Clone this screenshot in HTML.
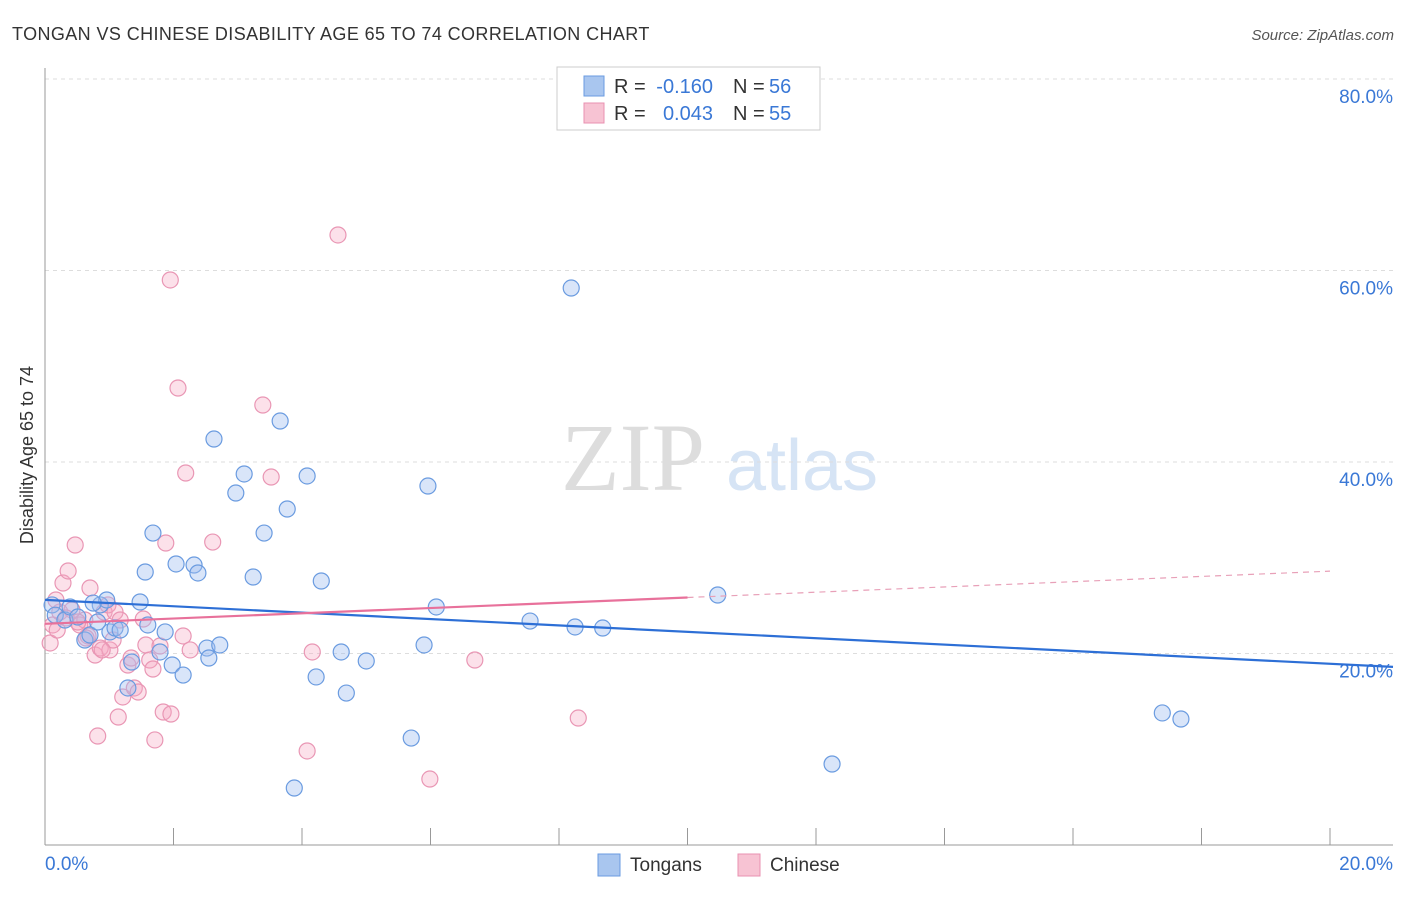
<!DOCTYPE html>
<html><head><meta charset="utf-8"><style>
body{margin:0;background:#fff;font-family:"Liberation Sans",sans-serif;}
svg text{font-family:"Liberation Sans",sans-serif;}
</style></head><body>
<svg id="chart" width="1406" height="892" viewBox="0 0 1406 892">
<text x="12" y="40" font-size="18" fill="#333" letter-spacing="0.4">TONGAN VS CHINESE DISABILITY AGE 65 TO 74 CORRELATION CHART</text>
<text x="1394" y="40" font-size="15" fill="#555" font-style="italic" text-anchor="end">Source: ZipAtlas.com</text>
<g>
<text x="633" y="490" font-size="96" fill="#ddd" text-anchor="middle" font-family="Liberation Serif" style="font-family:'Liberation Serif',serif">ZIP</text>
<text x="802" y="490" font-size="72" fill="#d6e4f5" text-anchor="middle">atlas</text>
</g>
<g id="grid"></g>
<g id="axes"></g>
<g id="marks"></g>
<text transform="translate(33,455) rotate(-90)" font-size="18" fill="#333" text-anchor="middle">Disability Age 65 to 74</text>
<g>
<rect x="557" y="67" width="263" height="63" fill="#fff" stroke="#ccc"/>
<rect x="584" y="76" width="20" height="20" fill="#a9c6ef" stroke="#6a9be0"/>
<text x="614" y="93" font-size="20" fill="#333">R =</text>
<text x="713" y="93" font-size="20" fill="#3a78d6" text-anchor="end">-0.160</text>
<text x="733" y="93" font-size="20" fill="#333">N =</text>
<text x="769" y="93" font-size="20" fill="#3a78d6">56</text>
<rect x="584" y="103" width="20" height="20" fill="#f7c3d3" stroke="#e890b0"/>
<text x="614" y="120" font-size="20" fill="#333">R =</text>
<text x="713" y="120" font-size="20" fill="#3a78d6" text-anchor="end">0.043</text>
<text x="733" y="120" font-size="20" fill="#333">N =</text>
<text x="769" y="120" font-size="20" fill="#3a78d6">55</text>
</g>
<g>
<rect x="598" y="854" width="22" height="22" fill="#a9c6ef" stroke="#6a9be0"/>
<text x="630" y="871" font-size="19" fill="#333">Tongans</text>
<rect x="738" y="854" width="22" height="22" fill="#f7c3d3" stroke="#e890b0"/>
<text x="770" y="871" font-size="19" fill="#333">Chinese</text>
</g>
</svg>
<script>
const yTicks=[20,40,60,80];
const xTickLabels=["0.0%","20.0%"];
const blueX=[0.11,0.16,0.31,0.39,0.51,0.62,0.70,0.82,0.86,0.96,1.01,1.09,1.17,1.29,1.35,1.48,1.56,1.60,1.68,1.79,1.87,1.98,2.04,2.15,2.32,2.38,2.52,2.55,2.63,2.72,2.97,3.10,3.24,3.41,3.66,3.77,3.88,4.08,4.22,4.30,4.61,4.69,5.0,5.70,5.90,5.96,6.09,7.55,8.19,8.25,8.68,10.47,12.25,17.39,17.68,0.75];
const blueY=[25.07,24.0,23.5,24.86,23.81,21.41,21.93,23.29,25.07,25.59,22.25,22.66,22.45,16.4,19.11,25.38,28.51,22.98,32.58,20.16,22.25,18.8,29.35,17.75,29.24,28.41,20.57,19.53,42.4,20.89,36.76,38.75,27.99,32.58,44.28,35.09,5.95,38.54,17.55,27.57,20.16,15.87,19.22,11.17,20.89,37.49,24.86,23.39,58.17,22.77,22.66,26.11,8.46,13.79,13.16,25.27];
const pinkX=[0.08,0.12,0.19,0.23,0.28,0.36,0.42,0.47,0.54,0.62,0.67,0.70,0.78,0.82,0.86,0.92,0.98,1.01,1.06,1.09,1.14,1.21,1.29,1.34,1.39,1.45,1.57,1.63,1.68,1.71,1.79,1.84,1.88,1.95,1.96,2.07,2.15,2.19,2.26,2.61,3.39,3.52,4.08,4.16,4.56,5.99,6.69,8.30,0.17,0.33,0.51,0.89,0.64,1.17,1.53];
const pinkY=[21.1,22.98,22.45,24.33,27.36,28.62,24.54,31.33,22.98,23.5,21.83,26.84,19.84,11.38,20.57,24.33,25.07,20.37,21.41,24.33,13.37,15.46,18.8,19.53,16.4,15.98,20.89,19.32,18.38,10.97,20.78,13.89,31.54,59.01,13.68,47.73,21.83,38.85,20.37,31.64,45.95,38.43,9.82,20.16,63.71,6.89,19.32,13.26,25.59,23.71,23.29,20.37,21.62,23.5,23.6];
const blueTrend=[25.6,18.6];
const pinkTrend=[23.1,28.6];
const NS="http://www.w3.org/2000/svg";
const X=v=>45+v*64.25, Y=v=>845-v*9.575;
function mk(tag,attrs,parent){const e=document.createElementNS(NS,tag);for(const k in attrs)e.setAttribute(k,attrs[k]);parent.appendChild(e);return e;}
const grid=document.getElementById('grid'),axes=document.getElementById('axes'),marks=document.getElementById('marks');
yTicks.forEach(t=>{
 const l=mk('line',{x1:45,x2:1393,y1:Y(t),y2:Y(t),stroke:'#ddd','stroke-dasharray':'4,4'},grid);
 
 
 const tx=mk('text',{x:1393,y:Y(t)+24,'font-size':19,fill:'#3a78d6','text-anchor':'end'},grid);
 tx.textContent=t.toFixed(1)+'%';
 
 
});
const ya=mk('line',{x1:45,x2:45,y1:68,y2:845,stroke:'#999'},axes);


const xa=mk('line',{x1:45,x2:1393,y1:845,y2:845,stroke:'#999'},axes);


for(let i=0;i<=10;i++){
 const t=mk('line',{x1:X(i*2),x2:X(i*2),y1:828,y2:845,stroke:'#999'},axes);
 
 
}
const xl0=mk('text',{x:45,y:870,'font-size':19,fill:'#3a78d6'},axes);xl0.textContent=xTickLabels[0];


const xl1=mk('text',{x:1393,y:870,'font-size':19,fill:'#3a78d6','text-anchor':'end'},axes);xl1.textContent=xTickLabels[1];


pinkX.forEach((v,i)=>{
 const c=mk('circle',{cx:X(v),cy:Y(pinkY[i]),r:8,fill:'rgba(245,170,195,0.35)',stroke:'#e996b4','stroke-width':1.2},marks);
 
 
});
blueX.forEach((v,i)=>{
 const c=mk('circle',{cx:X(v),cy:Y(blueY[i]),r:8,fill:'rgba(160,190,240,0.4)',stroke:'#6a9be0','stroke-width':1.2},marks);
 
 
});
const xEnd=(1393-45)/64.25;
const bt=mk('line',{x1:X(0),y1:Y(blueTrend[0]),x2:X(xEnd),y2:Y(blueTrend[1]),stroke:'#2d6fd6','stroke-width':2.2},marks);


const pAt=x=>pinkTrend[0]+(pinkTrend[1]-pinkTrend[0])*x/20;
const ps=mk('line',{x1:X(0),y1:Y(pAt(0)),x2:X(10),y2:Y(pAt(10)),stroke:'#e8719b','stroke-width':2.2},marks);


const pd=mk('line',{x1:X(10),y1:Y(pAt(10)),x2:X(20),y2:Y(pAt(20)),stroke:'#e8a0b8','stroke-width':1.2,'stroke-dasharray':'6,5'},marks);


</script>
</body></html>
